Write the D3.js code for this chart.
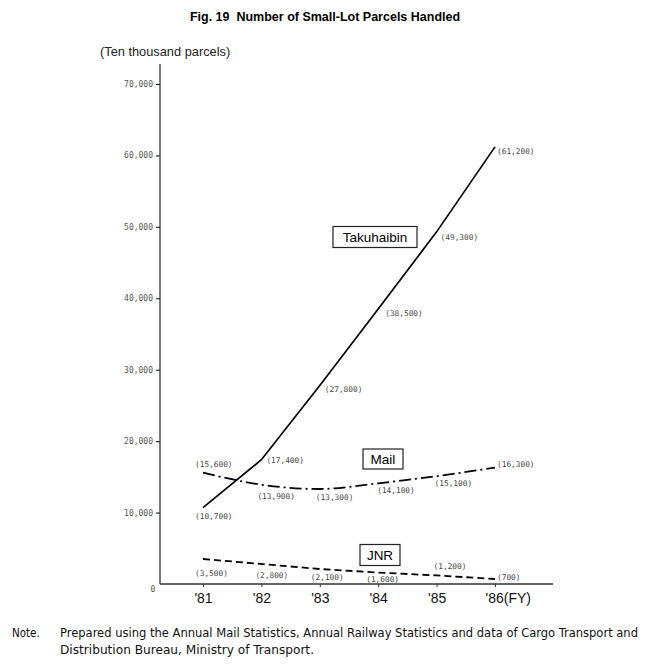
<!DOCTYPE html>
<html>
<head>
<meta charset="utf-8">
<script src="https://cdn.jsdelivr.net/npm/d3@7"></script>
<style>
  body { margin: 0; background: #fff; }
  svg { display: block; }
  .tick text { font-family: "DejaVu Sans Mono", monospace; }
</style>
</head>
<body>
<div id="chart"></div>
<script>
var years = ["'81", "'82", "'83", "'84", "'85", "'86"];
var takuhaibin = [10700, 17400, 27800, 38500, 49300, 61200];
var mail = [15600, 13900, 13300, 14100, 15100, 16300];
var jnr = [3500, 2800, 2100, 1600, 1200, 700];
var yTicks = [0, 10000, 20000, 30000, 40000, 50000, 60000, 70000];

var width = 650;
var height = 667;
var plotLeft = 160, plotRight = 553, plotTop = 64, plotBottom = 584;

var svg = d3.select("#chart")
  .append("svg")
  .attr("width", width)
  .attr("height", height);

var x = d3.scalePoint()
  .domain(years)
  .range([203, 495]);

var y = d3.scaleLinear()
  .domain([0, 72800])
  .range([plotBottom, plotTop]);

// title
svg.append("text")
  .attr("x", 325)
  .attr("y", 21)
  .attr("text-anchor", "middle")
  .style("white-space", "pre")
  .style("font-family", "Liberation Sans, Arial, sans-serif")
  .style("font-weight", "bold")
  .style("font-size", "12.5px")
  .text("Fig. 19  Number of Small-Lot Parcels Handled");

svg.append("text")
  .attr("x", 100)
  .attr("y", 56)
  .style("font-family", "Liberation Sans, Arial, sans-serif")
  .style("font-size", "12.8px")
  .style("fill", "#222")
  .text("(Ten thousand parcels)");

// y axis
var yAxis = svg.append("g")
  .attr("transform", "translate(" + plotLeft + ",0)")
  .call(d3.axisLeft(y)
    .tickValues(yTicks)
    .tickSize(4)
    .tickPadding(3)
    .tickFormat(function(d) { return d === 0 ? "0" : d3.format(",")(d); }));
yAxis.select(".domain").remove();
yAxis.selectAll(".tick line")
  .filter(function(d) { return d === 0; })
  .remove();
yAxis.selectAll(".tick text")
  .style("font-size", "8px")
  .style("fill", "#555");
yAxis.selectAll(".tick")
  .filter(function(d) { return d === 0; })
  .select("text")
  .attr("dy", "0.9em")
  .attr("text-anchor", "middle")
  .attr("x", -7);

svg.append("line")
  .attr("x1", plotLeft).attr("x2", plotLeft)
  .attr("y1", plotTop).attr("y2", plotBottom)
  .attr("stroke", "#333")
  .attr("stroke-width", 1.3);

// x axis
var xAxis = svg.append("g")
  .attr("transform", "translate(0," + plotBottom + ")")
  .call(d3.axisBottom(x)
    .tickSize(3)
    .tickPadding(6)
    .tickFormat(function(d) { return d; }));
xAxis.select(".domain").remove();
xAxis.selectAll(".tick line").attr("stroke", "#333");
xAxis.selectAll(".tick text")
  .style("font-family", "Liberation Sans, Arial, sans-serif")
  .style("font-size", "14px")
  .style("fill", "#111");
xAxis.selectAll(".tick")
  .filter(function(d) { return d === "'86"; })
  .select("text")
  .attr("text-anchor", "start")
  .attr("x", -10)
  .text("'86(FY)");

svg.append("line")
  .attr("x1", plotLeft).attr("x2", plotRight)
  .attr("y1", plotBottom).attr("y2", plotBottom)
  .attr("stroke", "#333")
  .attr("stroke-width", 1.3);

// lines
var line = d3.line()
  .x(function(d, i) { return x(years[i]); })
  .y(function(d) { return y(d); });

svg.append("path")
  .attr("d", line(takuhaibin))
  .attr("fill", "none")
  .attr("stroke", "#000")
  .attr("stroke-width", 1.7);

svg.append("path")
  .attr("d", line.curve(d3.curveMonotoneX)(mail))
  .attr("fill", "none")
  .attr("stroke", "#000")
  .attr("stroke-width", 1.8)
  .attr("stroke-dasharray", "12,4,2,4");

svg.append("path")
  .attr("d", line.curve(d3.curveLinear)(jnr))
  .attr("fill", "none")
  .attr("stroke", "#000")
  .attr("stroke-width", 1.8)
  .attr("stroke-dasharray", "7,4");

// value labels: [dx, dy] of the label's left-middle from each point
var takuOff = [[-8, 9], [5, 1], [5, 4], [7, 4], [4, 5], [2, 4]];
var mailOff = [[-8, -8], [-4, 12], [-4, 8], [-1, 7], [-2, 7], [2, -3]];
var jnrOff = [[-8, 14], [-6, 11], [-9, 8], [-12, 7], [-3, -9], [2, -2]];

function labels(values, off) {
  svg.append("g")
    .selectAll("text")
    .data(values)
    .enter()
    .append("text")
    .attr("x", function(d, i) { return x(years[i]) + off[i][0]; })
    .attr("y", function(d, i) { return y(d) + off[i][1]; })
    .attr("dy", "0.35em")
    .style("font-family", "DejaVu Sans Mono, monospace")
    .style("font-size", "7.8px")
    .style("fill", "#444")
    .text(function(d) { return "(" + d3.format(",")(d) + ")"; });
}
labels(takuhaibin, takuOff);
labels(mail, mailOff);
labels(jnr, jnrOff);

// series name boxes
var names = [
  {name: "Takuhaibin", cx: 375, cy: 237, w: 84, h: 21},
  {name: "Mail", cx: 383, cy: 459, w: 40, h: 20},
  {name: "JNR", cx: 380, cy: 555, w: 40, h: 21}
];
var box = svg.append("g")
  .selectAll("g")
  .data(names)
  .enter()
  .append("g");
box.append("rect")
  .attr("x", function(d) { return d.cx - d.w / 2; })
  .attr("y", function(d) { return d.cy - d.h / 2; })
  .attr("width", function(d) { return d.w; })
  .attr("height", function(d) { return d.h; })
  .attr("fill", "#fff")
  .attr("stroke", "#222")
  .attr("stroke-width", 1.2);
box.append("text")
  .attr("x", function(d) { return d.cx; })
  .attr("y", function(d) { return d.cy; })
  .attr("dy", "0.36em")
  .attr("text-anchor", "middle")
  .style("font-family", "Liberation Sans, Arial, sans-serif")
  .style("font-size", "13.5px")
  .text(function(d) { return d.name; });

// note
var note = svg.append("g")
  .style("font-family", "Liberation Sans Narrow, DejaVu Sans Condensed, sans-serif")
  .style("font-size", "11.5px")
  .style("fill", "#111");
note.append("text")
  .attr("x", 12).attr("y", 637)
  .text("Note.");
note.append("text")
  .attr("x", 60).attr("y", 637)
  .attr("textLength", 578)
  .attr("lengthAdjust", "spacingAndGlyphs")
  .text("Prepared using the Annual Mail Statistics, Annual Railway Statistics and data of Cargo Transport and");
note.append("text")
  .attr("x", 60).attr("y", 654)
  .attr("textLength", 254)
  .attr("lengthAdjust", "spacingAndGlyphs")
  .text("Distribution Bureau, Ministry of Transport.");
</script>
</body>
</html>
